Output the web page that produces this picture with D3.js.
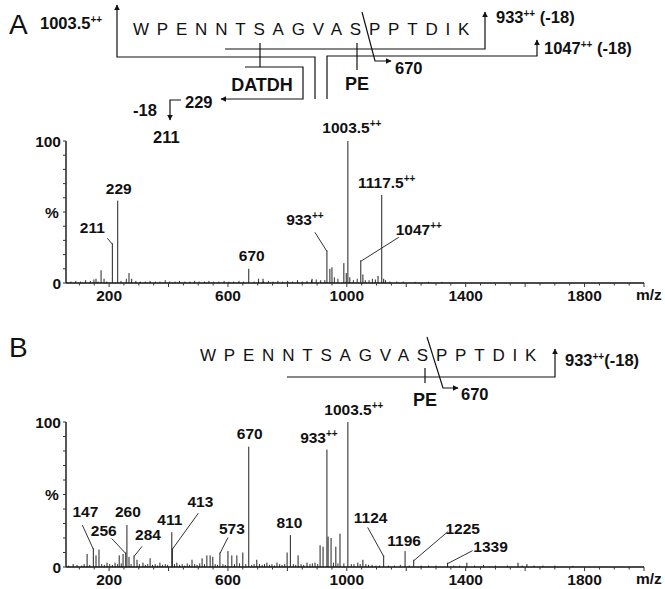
<!DOCTYPE html>
<html>
<head>
<meta charset="utf-8">
<script src="https://cdn.jsdelivr.net/npm/d3@7"></script>
<style>
  body { margin: 0; background: #fff; }
  text { font-family: Arial, "Liberation Sans", sans-serif; fill: #111; }
</style>
</head>
<body>
<div id="chart"></div>
<script>
'use strict';

// peptide shown above both spectra
const sequence = "WPENNTSAGVASPPTDIK";

// x axis
const mzDomain = [55, 2000];
const xTicks = [200, 600, 1000, 1400, 1800];

// panel A: [m/z, relative intensity %]
const peaksA = [
  [156, 3], [173, 9], [183, 3], [211, 28], [229, 58], [267, 7], [276, 3],
  [670, 10], [718, 3], [883, 3], [926, 2], [933, 23], [943, 10], [950, 11],
  [990, 14], [998, 7], [1003.5, 100], [1010, 4], [1047, 16], [1054, 6],
  [1105, 5], [1117.5, 62], [1124, 3]
];
const noiseA = [
  [72, 1], [88, 1.5], [104, 1], [121, 2], [137, 1.5], [149, 2.5], [163, 1], [192, 1],
  [240, 1.5], [258, 3], [290, 1.5], [305, 1], [322, 1], [338, 1.5], [356, 1], [371, 1],
  [389, 2], [404, 1], [422, 1], [437, 1.5], [455, 1], [472, 1], [488, 1.5], [503, 1],
  [521, 1], [536, 1.5], [552, 1], [569, 1], [587, 1.5], [603, 1], [619, 1], [637, 1.5],
  [652, 1], [688, 1], [703, 3], [719, 1], [736, 1.5], [752, 1], [768, 1.5], [784, 1],
  [801, 1.5], [817, 1], [834, 2], [850, 1], [866, 1.5], [881, 2], [897, 2.5], [912, 2],
  [958, 4], [970, 3], [1022, 2], [1035, 3], [1062, 2], [1075, 2], [1086, 3], [1096, 2.5],
  [1130, 2], [1145, 1], [1168, 1], [1190, 1], [1230, 0.8], [1275, 0.8], [1320, 0.8]
];
const labelsA = [
  [211, "211"], [229, "229"], [670, "670"], [933, "933++"],
  [1003.5, "1003.5++"], [1047, "1047++"], [1117.5, "1117.5++"]
];

// panel B
const peaksB = [
  [79, 2], [126, 9], [147, 13], [156, 8], [166, 12], [193, 3], [220, 3], [234, 8],
  [247, 9], [256, 10], [260, 29], [267, 7], [284, 8], [294, 5], [314, 3], [338, 6],
  [371, 3], [411, 24], [413, 13], [428, 3], [479, 5], [513, 6], [529, 8], [540, 8],
  [549, 7], [573, 10], [600, 11], [613, 8], [630, 8], [650, 10], [670, 83], [697, 5],
  [731, 3], [765, 3], [799, 10], [810, 22], [836, 8], [866, 3], [893, 3], [910, 15],
  [920, 14], [933, 81], [937, 21], [947, 20], [963, 14], [977, 23], [1003.5, 100],
  [1037, 3], [1054, 5], [1124, 8], [1196, 11], [1225, 5], [1339, 3], [1404, 3],
  [1576, 3], [1606, 2]
];
const noiseB = [
  [64, 1], [92, 1.5], [108, 1], [116, 2], [135, 1.5], [175, 2], [184, 1.5], [202, 2],
  [211, 1.5], [228, 2], [241, 2.5], [274, 2], [302, 2], [322, 1.5], [330, 2], [346, 1.5],
  [355, 2], [363, 1], [380, 1.5], [389, 2], [397, 1.5], [420, 2], [437, 1.5], [446, 2],
  [455, 1], [463, 2.5], [471, 1.5], [488, 2], [496, 1.5], [505, 2.5], [521, 2], [557, 2],
  [565, 1.5], [583, 2], [591, 1.5], [622, 2], [639, 2.5], [660, 2], [680, 1.5], [688, 2],
  [706, 2], [715, 1.5], [723, 2], [740, 1.5], [748, 2], [757, 1], [774, 2], [782, 1.5],
  [791, 2], [820, 2], [828, 1.5], [846, 2], [855, 1.5], [876, 2], [884, 2.5], [902, 2],
  [955, 3], [970, 2.5], [990, 2.5], [1015, 2], [1024, 2], [1045, 2], [1064, 2], [1073, 1.5],
  [1085, 1.5], [1098, 1], [1110, 1], [1140, 1], [1160, 1], [1180, 1.5], [1210, 1],
  [1250, 1], [1275, 1], [1300, 1], [1360, 1], [1380, 1], [1430, 1], [1460, 1.5],
  [1500, 1], [1540, 1], [1590, 1], [1630, 1], [1660, 1], [1700, 1], [1760, 0.8]
];
const labelsB = [
  [147, "147"], [256, "256"], [260, "260"], [284, "284"], [411, "411"], [413, "413"],
  [573, "573"], [670, "670"], [810, "810"], [933, "933++"], [1003.5, "1003.5++"],
  [1124, "1124"], [1196, "1196"], [1225, "1225"], [1339, "1339"]
];

// label placement relative to the peak top: baseline-centre offset and leader start
const placeA = {
  "211": { dx: -20, dy: -10, lead: [-5, -5] },
  "229": { dx: 1, dy: -7 },
  "670": { dx: 3, dy: -8 },
  "933++": { dx: -22, dy: -25, lead: [-12, -18] },
  "1003.5++": { dx: 4, dy: -8 },
  "1047++": { dx: 58, dy: -25, lead: [38, -23] },
  "1117.5++": { dx: 5, dy: -7 }
};
const placeB = {
  "147": { dx: -8, dy: -31, lead: [-11, -23] },
  "256": { dx: -22, dy: -17, lead: [-14, -14] },
  "260": { dx: 1, dy: -7.5 },
  "284": { dx: 14, dy: -15, lead: [8, -9] },
  "411": { dx: -2, dy: -7 },
  "413": { dx: 28, dy: -41, lead: [26, -35] },
  "573": { dx: 12, dy: -19, lead: [8, -15] },
  "670": { dx: 1, dy: -8 },
  "810": { dx: -1, dy: -7 },
  "933++": { dx: -8, dy: -7 },
  "1003.5++": { dx: 6, dy: -7 },
  "1124": { dx: -13, dy: -32, lead: [-16, -28] },
  "1196": { dx: -1, dy: -5.5 },
  "1225": { dx: 49, dy: -26, lead: [34, -28] },
  "1339": { dx: 43, dy: -11, lead: [25, -12] }
};

const W = 665, H = 589;
const svg = d3.select('#chart').append('svg')
  .attr('width', W)
  .attr('height', H);

svg.append('defs').append('marker')
  .attr('id', 'arr')
  .attr('viewBox', '0 0 10 10')
  .attr('refX', 9).attr('refY', 5)
  .attr('markerWidth', 5).attr('markerHeight', 5)
  .attr('orient', 'auto')
  .append('path')
  .attr('d', 'M0,0 L10,5 L0,10 z')
  .attr('fill', '#111');

const labelFont = 15.5;
const headFont = 16.5;

// text with "++" drawn as a small superscript
function richText(sel, str) {
  let main = str, sup = "", rest = "";
  let i = str.indexOf("++");
  if (i >= 0) {
    main = str.slice(0, i);
    sup = "++";
    rest = str.slice(i + 2);
  }
  sel.append('tspan').text(main);
  if (sup) {
    sel.append('tspan').attr('dy', -6).style('font-size', '10px').text(sup);
    if (rest) sel.append('tspan').attr('dy', 6).text(rest);
  }
  return sel;
}

function drawSpectrum(peaks, noise, labels, place, top, base) {
  let x = d3.scaleLinear().domain(mzDomain).range([66, 644]);
  let y = d3.scaleLinear().domain([0, 100]).range([base, top]);
  let g = svg.append('g');

  g.selectAll('.noise')
    .data(noise)
    .join('line')
    .attr('x1', d => x(d[0])).attr('x2', d => x(d[0]))
    .attr('y1', y(0)).attr('y2', d => y(d[1]))
    .attr('stroke', '#333').attr('stroke-width', 1);

  g.selectAll('.peak')
    .data(peaks)
    .join('line')
    .attr('x1', d => x(d[0])).attr('x2', d => x(d[0]))
    .attr('y1', y(0)).attr('y2', d => y(d[1]))
    .attr('stroke', '#222').attr('stroke-width', 1);

  // x axis
  g.append('line')
    .attr('x1', x(mzDomain[0])).attr('x2', x(mzDomain[1]))
    .attr('y1', y(0)).attr('y2', y(0))
    .attr('stroke', '#111').attr('stroke-width', 1.6);
  g.selectAll('.xt')
    .data(d3.range(100, 2001, 50))
    .join('line')
    .attr('x1', d => x(d)).attr('x2', d => x(d))
    .attr('y1', y(0)).attr('y2', d => y(0) + (d % 200 === 0 ? 4 : 2.5))
    .attr('stroke', '#333').attr('stroke-width', 1);
  g.selectAll('.xl')
    .data(xTicks)
    .join('text')
    .attr('x', d => x(d))
    .attr('y', y(0) + 18)
    .attr('text-anchor', 'middle')
    .style('font-size', labelFont + 'px')
    .style('font-weight', 'bold')
    .text(d => d);
  g.append('text')
    .attr('x', 636).attr('y', y(0) + 17)
    .style('font-size', labelFont + 'px')
    .style('font-weight', 'bold')
    .text('m/z');

  // y axis
  g.append('line')
    .attr('x1', 66).attr('x2', 66)
    .attr('y1', y(0)).attr('y2', y(100))
    .attr('stroke', '#111').attr('stroke-width', 1.4);
  g.selectAll('.yt')
    .data(d3.range(0, 101, 10))
    .join('line')
    .attr('x1', 66).attr('x2', 63)
    .attr('y1', d => y(d)).attr('y2', d => y(d))
    .attr('stroke', '#333').attr('stroke-width', 1);
  [[100, '100', 61, 'end'], [50, '%', 52, 'middle'], [0, '0', 61, 'end']].forEach(t => {
    g.append('text')
      .attr('x', t[2]).attr('y', y(t[0]) + 5.5)
      .attr('text-anchor', t[3])
      .style('font-size', labelFont + 'px')
      .style('font-weight', 'bold')
      .text(t[1]);
  });

  // peak labels and leader lines
  labels.forEach(l => {
    let p = peaks.find(d => d[0] === l[0]);
    let px = x(p[0]), py = y(p[1]);
    let pos = place[l[1]];
    let t = g.append('text')
      .attr('x', px + pos.dx).attr('y', py + pos.dy)
      .attr('text-anchor', 'middle')
      .style('font-size', labelFont + 'px')
      .style('font-weight', 'bold');
    richText(t, l[1]);
    if (pos.lead) {
      g.append('line')
        .attr('x1', px + pos.lead[0]).attr('y1', py + pos.lead[1])
        .attr('x2', px).attr('y2', py + 1)
        .attr('stroke', '#333').attr('stroke-width', 1);
    }
  });
}

drawSpectrum(peaksA, noiseA, labelsA, placeA, 141, 283);
drawSpectrum(peaksB, noiseB, labelsB, placeB, 422, 567);

// fragmentation schematics above each spectrum
function seqText(x0, yb) {
  svg.append('text')
    .attr('x', x0).attr('y', yb)
    .style('font-size', '17px')
    .style('letter-spacing', '7.8px')
    .text(sequence);
}

function path(d, arrow) {
  let p = svg.append('path')
    .attr('d', d)
    .attr('fill', 'none')
    .attr('stroke', '#111')
    .attr('stroke-width', 1.2);
  if (arrow) p.attr('marker-end', 'url(#arr)');
}

function label(x0, yb, str, anchor, size, weight) {
  let t = svg.append('text')
    .attr('x', x0).attr('y', yb)
    .attr('text-anchor', anchor || 'start')
    .style('font-size', (size || headFont) + 'px')
    .style('font-weight', weight || 'bold');
  richText(t, str);
}

// panel A
label(9, 34, 'A', 'start', 28, 'normal');
label(40, 29, '1003.5++');
seqText(133, 35);
path('M315,99 V57 H117 V5', true);
path('M327,99 V56 H537 V40', true);
path('M225,49 H485 V12', true);
path('M260,43 V67');
path('M245,67 H303 V99 H221', true);
path('M181,100 H170 V120', true);
path('M357,43 V70');
path('M362,12 L375,61 H391', true);
label(496, 23, '933++ (-18)');
label(544, 54, '1047++ (-18)');
label(262, 91, 'DATDH', 'middle', 18);
label(357, 90, 'PE', 'middle', 18);
label(395, 74, '670');
label(185, 108, '229');
label(133, 116, '-18');
label(153, 143, '211');

// panel B
label(9, 357, 'B', 'start', 28, 'normal');
seqText(200, 361);
path('M287,377 H555 V349', true);
path('M425,368 V383');
path('M427,337 L443,388 H458', true);
label(425, 406, 'PE', 'middle', 18);
label(461, 400, '670');
label(565, 366, '933++(-18)');
</script>
</body>
</html>
